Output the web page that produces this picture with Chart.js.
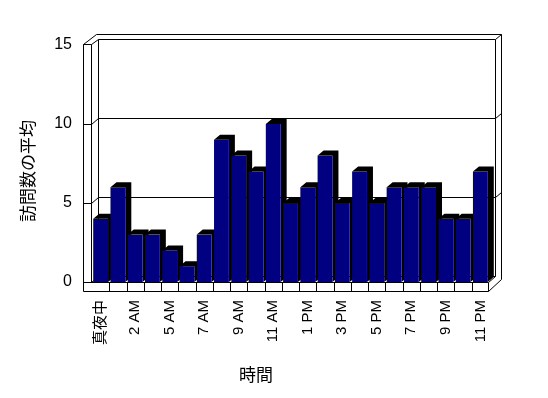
<!DOCTYPE html>
<html>
<head>
<meta charset="utf-8">
<script src="https://cdn.jsdelivr.net/npm/chart.js@4"></script>
<style>
  body { margin: 0; background: #fff; }
</style>
</head>
<body>
<canvas id="visitChart" width="548" height="398"></canvas>
<script>
// data
const hourLabels = ['真夜中', '1 AM', '2 AM', '3 AM', '5 AM', '6 AM', '7 AM', '8 AM', '9 AM', '10 AM', '11 AM', '12 PM',
  '1 PM', '2 PM', '3 PM', '4 PM', '5 PM', '6 PM', '7 PM', '8 PM', '9 PM', '10 PM', '11 PM'];
const avgVisits = [4, 6, 3, 3, 2, 1, 3, 9, 8, 7, 10, 5, 6, 8, 5, 7, 5, 6, 6, 6, 4, 4, 7];
const yTicks = [0, 5, 10, 15];
const yTitle = '訪問数の平均';
const xTitle = '時間';

const fontFamily = '"Liberation Sans", Arial, "Noto Sans CJK JP", sans-serif';
const depthX = 6, depthY = -5;

const line = function (ctx, x1, y1, x2, y2) {
  ctx.beginPath();
  ctx.moveTo(Math.round(x1) + 0.5, Math.round(y1) + 0.5);
  ctx.lineTo(Math.round(x2) + 0.5, Math.round(y2) + 0.5);
  ctx.stroke();
};

// walls, floor and the dark side/top of every bar
const box3d = {
  id: 'box3d',
  beforeDatasetsDraw(chart) {
    const ctx = chart.ctx;
    const xs = chart.scales.x, ys = chart.scales.y;
    const L = chart.chartArea.left, R = chart.chartArea.right;
    const FT = ys.getPixelForValue(15) - 1;
    const FB = ys.getPixelForValue(0);
    ctx.save();
    ctx.strokeStyle = '#000';
    ctx.lineWidth = 1;

    // left wall
    line(ctx, L - 9, FT, L - 9, FB + 9);
    line(ctx, L - 1, FT, L - 1, FB);
    line(ctx, L - 9, FT, L - 1, FT);
    line(ctx, L - 9, FT, L + 4, FT - 10);
    line(ctx, L - 1, FT, L + 6, FT - 5);
    // back wall
    line(ctx, L + 4, FT - 10, R + 12, FT - 10);
    line(ctx, L + 6, FT - 5, R + 6, FT - 5);
    line(ctx, L + 6, FT - 5, L + 6, FB - 6);
    line(ctx, R + 6, FT - 5, R + 6, FB - 6);
    line(ctx, R + 6, FT - 5, R + 12, FT - 10);
    line(ctx, R + 12, FT - 10, R + 12, FB - 3);
    line(ctx, L + 6, FB - 6, R + 6, FB - 6);
    // gridlines
    yTicks.slice(1, -1).forEach(v => {
      const y = ys.getPixelForValue(v);
      line(ctx, L - 9, y, L - 1, y);
      line(ctx, L - 1, y, L + 6, y - 6);
      line(ctx, L + 6, y - 6, R + 6, y - 6);
      line(ctx, R + 6, y - 6, R + 12, y - 11);
    });
    // floor
    line(ctx, L - 9, FB, R - 1, FB);
    line(ctx, L - 9, FB + 9, R - 1, FB + 9);
    line(ctx, R - 1, FB, R - 1, FB + 9);
    line(ctx, R - 1, FB, R + 6, FB - 6);
    line(ctx, R - 1, FB + 9, R + 12, FB - 3);
    line(ctx, L - 1, FB, L + 6, FB - 6);
    for (let k = 1; k < hourLabels.length; k++) {
      const xb = (xs.getPixelForValue(k - 1) + xs.getPixelForValue(k)) / 2;
      line(ctx, xb, FB, xb, FB + 9);
    }

    // bar sides and tops
    ctx.fillStyle = '#000';
    chart.getDatasetMeta(0).data.forEach(bar => {
      const x0 = bar.x - bar.width / 2, x1 = bar.x + bar.width / 2;
      ctx.beginPath();
      ctx.moveTo(x0, bar.y);
      ctx.lineTo(x0 + depthX, bar.y + depthY);
      ctx.lineTo(x1 + depthX, bar.y + depthY);
      ctx.lineTo(x1 + depthX, bar.base + depthY);
      ctx.lineTo(x1, bar.base);
      ctx.lineTo(x1, bar.y);
      ctx.closePath();
      ctx.fill();
    });
    ctx.restore();
  },
  afterDraw(chart) {
    const ctx = chart.ctx;
    ctx.save();
    ctx.fillStyle = '#000';
    ctx.font = '17px ' + fontFamily;
    ctx.textAlign = 'center';
    ctx.textBaseline = 'middle';
    ctx.fillText(xTitle, 256, 376);
    ctx.translate(29, 171);
    ctx.rotate(-Math.PI / 2);
    ctx.fillText(yTitle, 0, 0);
    ctx.restore();
  }
};

const visitChart = new Chart(document.getElementById('visitChart'), {
  type: 'bar',
  data: {
    labels: hourLabels,
    datasets: [{
      label: yTitle,
      data: avgVisits,
      backgroundColor: '#000080',
      borderWidth: 0,
      barPercentage: 0.86,
      categoryPercentage: 1
    }]
  },
  options: {
    responsive: false,
    animation: false,
    devicePixelRatio: 1,
    layout: { padding: { top: 45, right: 59, left: 0, bottom: 0 } },
    plugins: {
      legend: { display: false },
      tooltip: { enabled: false }
    },
    scales: {
      x: {
        grid: { display: false },
        border: { display: false },
        ticks: {
          autoSkip: false,
          minRotation: 90,
          maxRotation: 90,
          padding: 10,
          color: '#000',
          font: { family: fontFamily, size: 15 },
          callback: (val, i) => i % 2 === 0 ? hourLabels[i] : ''
        },
        afterFit: s => { s.height = 116; }
      },
      y: {
        min: 0,
        max: 15,
        grid: { display: false },
        border: { display: false },
        afterBuildTicks: s => { s.ticks = yTicks.map(v => ({ value: v })); },
        ticks: {
          padding: 12,
          color: '#000',
          font: { family: fontFamily, size: 16 }
        },
        afterFit: s => { s.width = 92; }
      }
    }
  },
  plugins: [box3d]
});
</script>
</body>
</html>
